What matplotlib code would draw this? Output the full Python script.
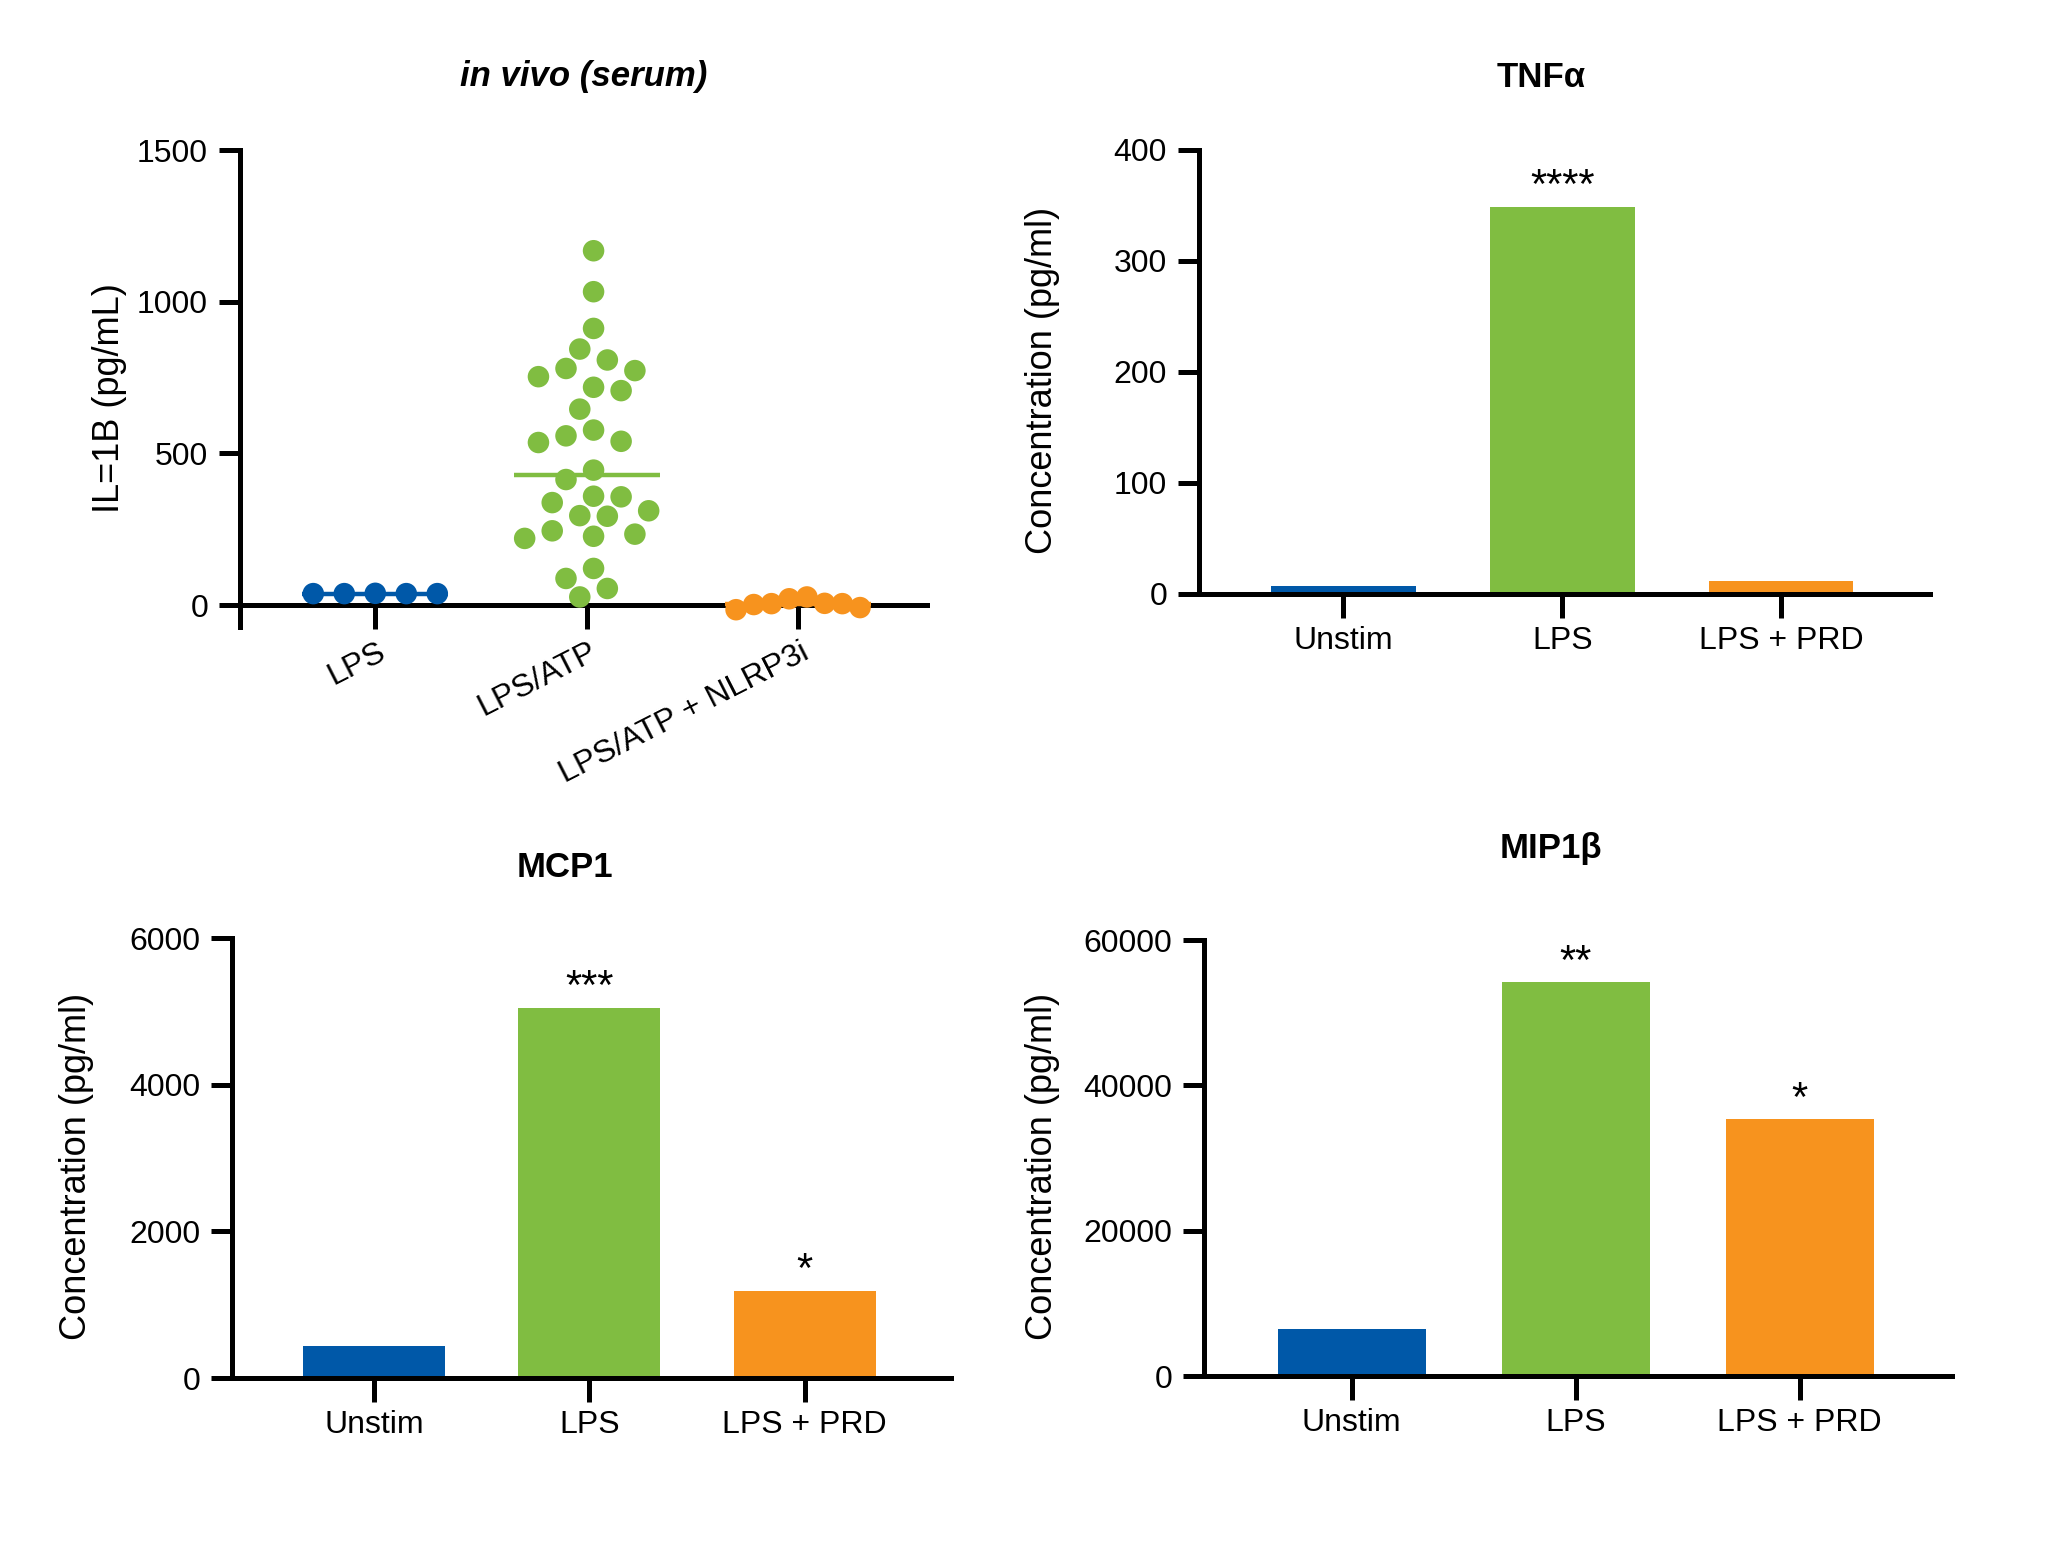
import matplotlib
matplotlib.use("Agg")
import matplotlib.pyplot as plt
import matplotlib.transforms as mtransforms
import numpy as np

plt.rcParams['font.family'] = ['Liberation Sans', 'DejaVu Sans']

blue = '#0058A8'
green = '#80BD41'
orange = '#F7931E'
colors = [blue, green, orange]

# in vivo (serum) IL-1B, one value per animal
serum_groups = ['LPS', 'LPS/ATP', 'LPS/ATP + NLRP3i']
serum_lps = [38, 38, 38, 39, 38]
serum_lps_atp = [1168, 1033, 912, 844, 808, 780, 773, 753, 718, 707, 646,
                 577, 558, 540, 536, 445, 414, 359, 357, 338, 311, 295, 293,
                 245, 234, 227, 220, 121, 88, 55, 27]
serum_nlrp3i = [2, 27, 6, 21, -15, 5, -8, 5]
serum_medians = [38, 429, 5]

# cytokines in vitro
bar_groups = ['Unstim', 'LPS', 'LPS + PRD']
tnfa = [7, 349, 12]
tnfa_stars = ['', '****', '']
mcp1 = [430, 5050, 1190]
mcp1_stars = ['', '***', '*']
mip1b = [6500, 54200, 35300]
mip1b_stars = ['', '**', '*']

W, H = 2048, 1553
fig = plt.figure(figsize=(W / 100, H / 100), dpi=100)


def rect(left, right, top, bottom):
    return [left / W, 1 - bottom / H, (right - left) / W, (bottom - top) / H]


def style(ax):
    for s in ['top', 'right']:
        ax.spines[s].set_visible(False)
    for s in ['left', 'bottom']:
        ax.spines[s].set_linewidth(3.6)
    ax.tick_params(axis='y', width=3.6, length=15, labelsize=23, pad=8)
    ax.tick_params(axis='x', width=3.6, length=17, labelsize=23, pad=6)


def swarm(ax, x0, values, diam, step, max_span):
    # greedy beeswarm in pixels: highest first, nearest free slot to centre
    ys = [ax.transData.transform((x0, v))[1] for v in values]
    cands = [0.0]
    for k in range(1, 30):
        cands += [-k * step, k * step]
    offs = np.zeros(len(values))
    placed = []
    for i in np.argsort(-np.array(values), kind='stable'):
        for c in cands:
            if all((c - px) ** 2 + (ys[i] - py) ** 2 >= diam ** 2 for px, py in placed):
                break
        placed.append((c, ys[i]))
        offs[i] = c
    span = offs.max() - offs.min()
    if span > max_span:
        offs = offs * max_span / span
    offs = offs - (offs.max() + offs.min()) / 2
    px_per_unit = ax.transData.transform((1, 0))[0] - ax.transData.transform((0, 0))[0]
    return x0 + offs / px_per_unit


# ---- scatter panel
ax = fig.add_axes(rect(240, 927, 150, 627))
style(ax)
ax.set_xlim(-0.64, 2.61)
ax.set_ylim(-72, 1500)
ax.spines['bottom'].set_position(('data', 0))
ax.set_yticks([0, 500, 1000, 1500])
ax.set_xticks(range(3))
ax.set_xticklabels(serum_groups, rotation=27, ha='right', va='top',
                   rotation_mode='anchor')
shift = mtransforms.ScaledTranslation(2 / 100, 0, fig.dpi_scale_trans)
for lab in ax.get_xticklabels():
    lab.set_transform(lab.get_transform() + shift)

for i, vals in enumerate([serum_lps, serum_lps_atp, serum_nlrp3i]):
    xs = swarm(ax, i, vals, diam=24, step=15.5, max_span=124)
    ax.scatter(xs, vals, s=240, color=colors[i], edgecolors='none',
               zorder=4, clip_on=False)
    ax.plot([i - 0.345, i + 0.345], [serum_medians[i]] * 2, color=colors[i],
            lw=3.2, zorder=3, solid_capstyle='butt')

ax.set_ylabel('IL=1B (pg/mL)', fontsize=26)
ax.yaxis.set_label_coords(-0.164, 0.48)
ax.set_title('in vivo (serum)', fontsize=25, fontweight='bold',
             style='italic', pad=46)


# ---- bar panels
def bar_panel(r, title, values, stars, ymax, ystep, tx, tpad, lx):
    ax = fig.add_axes(r)
    style(ax)
    x = np.arange(len(bar_groups))
    ax.bar(x, values, width=0.66, color=colors, zorder=2)
    ax.set_xlim(-0.66, 2.68)
    ax.set_ylim(0, ymax)
    ax.set_yticks(np.arange(0, ymax + 1, ystep))
    ax.set_xticks(x, bar_groups)
    for xi, v, s in zip(x, values, stars):
        if s:
            ax.annotate(s, (xi, v), xytext=(0, 6), textcoords='offset points',
                        ha='center', va='baseline', fontsize=30)
    ax.set_ylabel('Concentration (pg/ml)', fontsize=26)
    ax.yaxis.set_label_coords(lx, 0.48)
    ax.set_title(title, fontsize=25, fontweight='bold', x=tx, pad=tpad)
    return ax


bar_panel(rect(1199, 1930, 150, 594), 'TNFα', tnfa, tnfa_stars, 400, 100,
          0.468, 45, -0.19)
bar_panel(rect(232, 951, 938, 1378), 'MCP1', mcp1, mcp1_stars, 6000, 2000,
          0.463, 44, -0.192)
bar_panel(rect(1204, 1952, 940, 1376), 'MIP1β', mip1b, mip1b_stars, 60000,
          20000, 0.464, 59, -0.193)

fig.savefig('out.png', dpi=100, facecolor='white')
